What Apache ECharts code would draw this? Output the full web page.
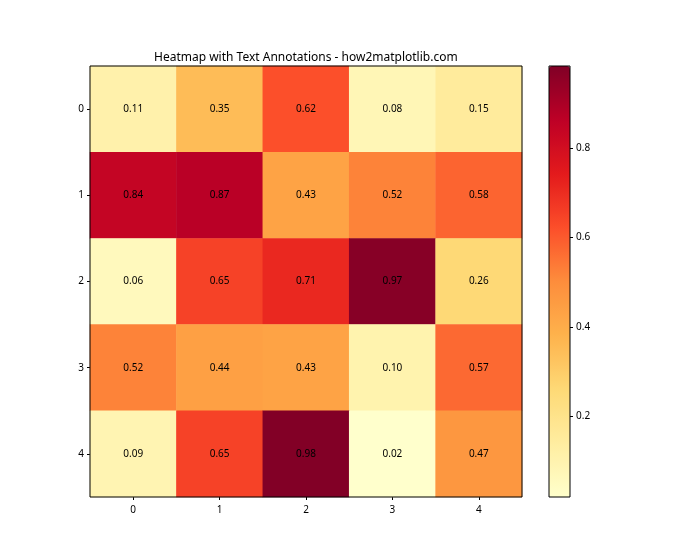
<!DOCTYPE html>
<html>
<head>
<meta charset="utf-8">
<script src="https://cdn.jsdelivr.net/npm/echarts@6/dist/echarts.min.js"></script>
<style>html,body{margin:0;padding:0;background:#fff}#c{width:700px;height:560px}</style>
</head>
<body>
<div id="c"></div>
<script>
var xLabels = ['0', '1', '2', '3', '4'];
var yLabels = ['0', '1', '2', '3', '4'];
var row0 = [0.11, 0.35, 0.62, 0.08, 0.15];
var row1 = [0.84, 0.87, 0.43, 0.52, 0.58];
var row2 = [0.06, 0.65, 0.71, 0.97, 0.26];
var row3 = [0.52, 0.44, 0.43, 0.10, 0.57];
var row4 = [0.09, 0.65, 0.98, 0.02, 0.47];
var colorbarTicks = [0.2, 0.4, 0.6, 0.8];
var cmin = 0.0188, cmax = 0.984;
var palette = ['#ffffcc', '#ffeda0', '#fed976', '#feb24c', '#fd8d3c', '#fc4e2a', '#e31a1c', '#bd0026', '#800026'];

var rows = [row0, row1, row2, row3, row4];
var data = [];
rows.forEach(function (r, yi) { r.forEach(function (v, xi) { data.push([xi, yi, v]); }); });

var font = 'Noto Sans';
var chart = echarts.init(document.getElementById('c'));
chart.setOption({
  animation: false,
  title: {
    text: 'Heatmap with Text Annotations - how2matplotlib.com',
    left: 149, top: 47,
    textStyle: { fontFamily: font, fontSize: 12, fontWeight: 'normal', color: '#000' }
  },
  grid: [
    { left: 90, top: 66, width: 432, height: 431, show: true, borderColor: '#000', borderWidth: 1, backgroundColor: 'transparent', z: 5 },
    { left: 549, top: 66, width: 21, height: 431, show: true, borderColor: '#000', borderWidth: 1, backgroundColor: 'transparent', z: 10 }
  ],
  xAxis: [
    { type: 'category', data: xLabels, gridIndex: 0, position: 'bottom',
      axisLine: { show: false }, axisTick: { show: true, alignWithLabel: true, length: 3, lineStyle: { color: '#000' } },
      axisLabel: { fontFamily: font, fontSize: 10, color: '#000', margin: 8 }, splitLine: { show: false } },
    { type: 'value', gridIndex: 1, show: false, min: 0, max: 1 }
  ],
  yAxis: [
    { type: 'category', data: yLabels, gridIndex: 0, inverse: true,
      axisLine: { show: false }, axisTick: { show: true, alignWithLabel: true, length: 3, lineStyle: { color: '#000' } },
      axisLabel: { fontFamily: font, fontSize: 10, color: '#000', margin: 6 }, splitLine: { show: false } },
    { type: 'value', gridIndex: 1, min: cmin, max: cmax, position: 'right', z: 10,
      axisLine: { show: false, onZero: false }, splitLine: { show: false },
      axisTick: { show: true, length: 3, customValues: colorbarTicks, lineStyle: { color: '#000' } },
      axisLabel: { fontFamily: font, fontSize: 10, color: '#000', margin: 6, customValues: colorbarTicks,
        formatter: function (v) { return v.toFixed(1); } } }
  ],
  visualMap: {
    type: 'continuous', seriesIndex: 0, min: cmin, max: cmax, calculable: false,
    orient: 'vertical', left: 549, top: 66, itemWidth: 21, itemHeight: 431, padding: 0,
    text: null, showLabel: false,
    inRange: { color: palette }
  },
  series: [
    { type: 'heatmap', xAxisIndex: 0, yAxisIndex: 0, data: data,
      label: { show: true, color: '#000', fontFamily: font, fontSize: 10,
        formatter: function (p) { return p.value[2].toFixed(2); } },
      emphasis: { disabled: true }, itemStyle: { borderWidth: 0 } },
    { type: 'scatter', xAxisIndex: 1, yAxisIndex: 1, data: [], silent: true }
  ]
});
</script>
</body>
</html>
